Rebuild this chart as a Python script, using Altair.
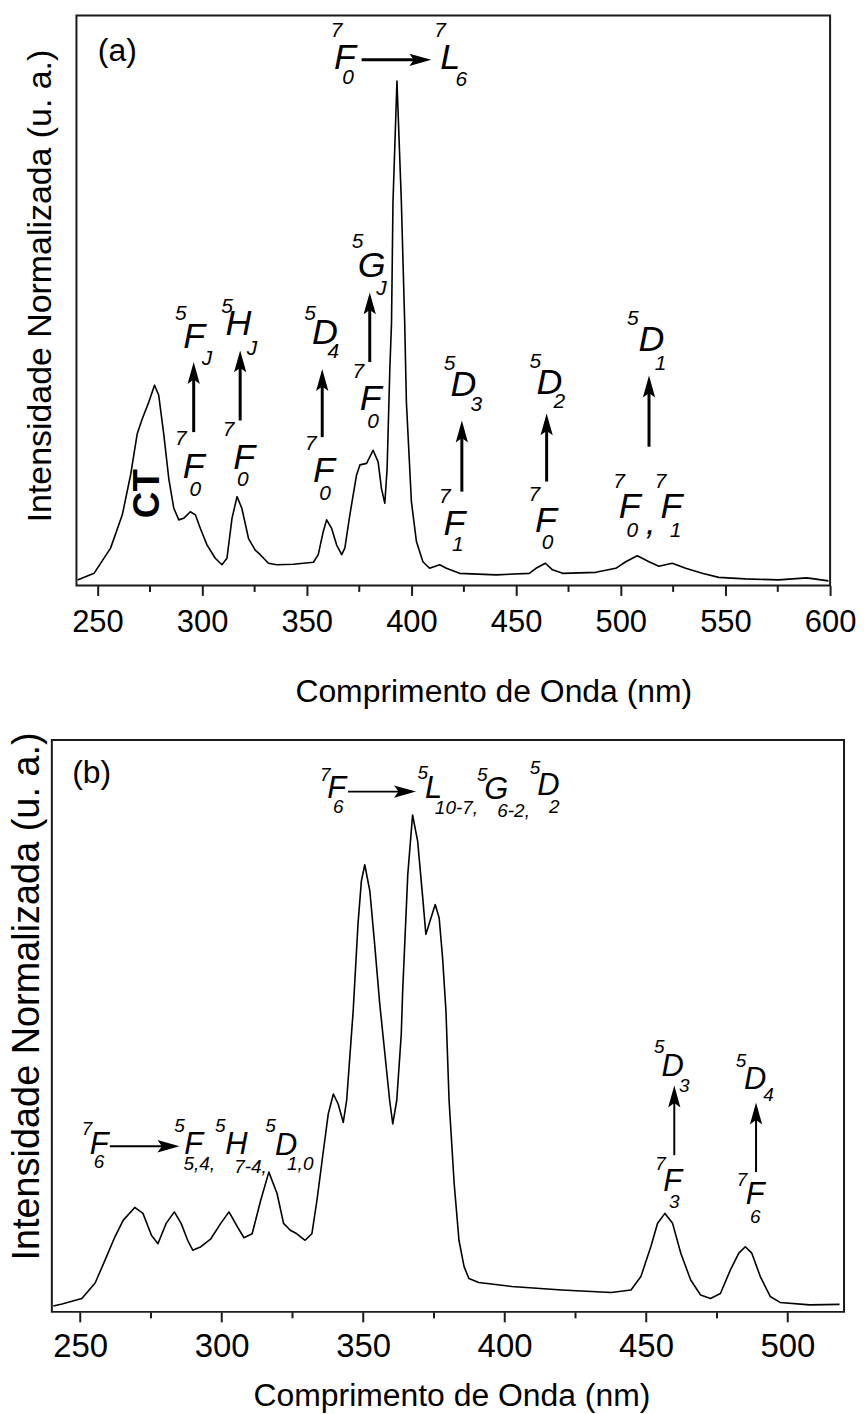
import altair as alt
import pandas as pd

FONT = "Liberation Sans"

# ---------------- Panel (a) spectrum ----------------
wl_a = [240.5, 248.4, 256.3, 261.9, 265.9, 269.0, 271.4, 274.6, 277.3, 279.3,
        281.7, 284.1, 286.5, 288.9, 291.2, 294.4, 296.8, 299.2, 302.4, 306.3,
        309.5, 311.9, 314.3, 316.7, 319.0, 322.2, 325.4, 327.8, 331.7, 335.7,
        343.6, 353.2, 355.5, 357.9, 359.5, 361.9, 364.3, 366.7, 368.2, 370.6,
        373.8, 375.4, 378.6, 381.7, 384.1, 385.7, 387.3, 388.4, 389.7, 390.5,
        391.2, 393.1, 395.2, 396.8, 397.6, 400.0, 402.4, 405.5, 408.7, 413.5,
        416.7, 423.0, 440.5, 456.3, 459.5, 464.0, 467.4, 472.2, 488.1, 497.6,
        502.4, 507.9, 513.5, 518.2, 524.6, 531.0, 538.9, 546.8, 559.5, 575.4,
        588.9, 599.2]
int_a = [0.011, 0.024, 0.074, 0.140, 0.220, 0.300, 0.330, 0.364, 0.397, 0.377,
         0.300, 0.212, 0.153, 0.130, 0.133, 0.146, 0.140, 0.113, 0.080, 0.054,
         0.041, 0.054, 0.133, 0.176, 0.153, 0.093, 0.070, 0.061, 0.044, 0.041,
         0.042, 0.046, 0.061, 0.107, 0.130, 0.113, 0.080, 0.061, 0.074, 0.140,
         0.219, 0.239, 0.242, 0.268, 0.245, 0.192, 0.163, 0.232, 0.430, 0.520,
         0.760, 1.000, 0.760, 0.520, 0.364, 0.166, 0.087, 0.047, 0.034, 0.041,
         0.034, 0.024, 0.021, 0.024, 0.034, 0.044, 0.031, 0.024, 0.026, 0.034,
         0.047, 0.059, 0.047, 0.038, 0.044, 0.034, 0.024, 0.016, 0.013, 0.011,
         0.015, 0.009]

# ---------------- Panel (b) spectrum ----------------
wl_b = [240.5, 243.6, 250.6, 255.3, 258.8, 262.3, 265.2, 269.3, 272.2, 275.2,
        277.5, 280.4, 283.3, 285.7, 288.0, 289.8, 292.7, 296.2, 299.7, 302.6,
        305.6, 307.9, 310.8, 313.8, 316.7, 319.6, 321.9, 324.3, 326.6, 329.5,
        331.9, 333.7, 336.0, 337.7, 339.5, 341.2, 343.0, 344.2, 345.9, 346.5,
        348.2, 349.4, 350.6, 352.4, 354.1, 355.9, 357.6, 359.4, 360.5, 361.9,
        363.5, 364.0, 365.8, 367.5, 369.3, 371.1, 372.2, 374.0, 375.5, 376.9,
        378.1, 379.3, 380.4, 382.2, 383.9, 385.7, 387.4, 390.9, 402.6, 420.2,
        437.7, 444.7, 448.2, 451.7, 454.1, 456.7, 459.4, 462.3, 465.8, 469.3,
        472.8, 476.3, 479.8, 482.8, 485.1, 487.4, 490.4, 493.9, 497.4, 507.9,
        518.4]
int_b = [0.012, 0.016, 0.027, 0.058, 0.104, 0.151, 0.184, 0.210, 0.198, 0.154,
         0.137, 0.178, 0.201, 0.178, 0.144, 0.124, 0.131, 0.147, 0.178, 0.201,
         0.171, 0.149, 0.157, 0.224, 0.281, 0.238, 0.178, 0.164, 0.157, 0.144,
         0.157, 0.224, 0.325, 0.398, 0.438, 0.418, 0.381, 0.425, 0.558, 0.605,
         0.779, 0.866, 0.899, 0.846, 0.739, 0.619, 0.525, 0.425, 0.378, 0.425,
         0.558, 0.645, 0.879, 0.999, 0.946, 0.832, 0.759, 0.792, 0.819, 0.792,
         0.712, 0.605, 0.425, 0.258, 0.144, 0.091, 0.067, 0.059, 0.051, 0.044,
         0.039, 0.044, 0.071, 0.131, 0.178, 0.198, 0.178, 0.118, 0.064, 0.034,
         0.027, 0.037, 0.084, 0.118, 0.131, 0.118, 0.071, 0.031, 0.019, 0.014,
         0.015]

# ---------------- axes ----------------
major_a = [250, 300, 350, 400, 450, 500, 550, 600]
minor_a = [275, 325, 375, 425, 475, 525, 575]
major_b = [250, 300, 350, 400, 450, 500]
minor_b = [275, 325, 375, 425, 475]
x_range_a = [240, 600]
x_range_b = [240, 520]
y_dom_a = [0, 1.13]
y_dom_b = [0, 1.15]
x_title = "Comprimento de Onda (nm)"
y_title = "Intensidade Normalizada (u. a.)"

# ---------------- annotations (role, wavelength, intensity, text) ----------------
labels_a = [
    ("tag", 259.5, 1.060, "(a)"),
    ("sup", 364.3, 1.099, "7"), ("main", 368.2, 1.045, "F"), ("sub", 369.7, 1.006, "0"),
    ("sup", 413.7, 1.099, "7"), ("main", 418.5, 1.045, "L"), ("sub", 423.8, 1.002, "6"),
    ("sup", 289.8, 0.538, "5"), ("main", 296.3, 0.492, "F"), ("sub", 302.4, 0.449, "J"),
    ("sup", 289.8, 0.291, "7"), ("main", 296.0, 0.234, "F"), ("sub", 296.8, 0.189, "0"),
    ("sup", 311.9, 0.551, "5"), ("main", 317.4, 0.518, "H"), ("sub", 323.8, 0.469, "J"),
    ("sup", 312.7, 0.308, "7"), ("main", 320.1, 0.253, "F"), ("sub", 319.5, 0.209, "0"),
    ("sup", 351.6, 0.538, "5"), ("main", 358.7, 0.500, "D"), ("sub", 362.7, 0.462, "4"),
    ("sup", 351.9, 0.281, "7"), ("main", 358.2, 0.227, "F"), ("sub", 358.7, 0.182, "0"),
    ("sup", 374.3, 0.680, "5"), ("main", 381.0, 0.634, "G"), ("sub", 385.7, 0.588, "J"),
    ("sup", 374.6, 0.423, "7"), ("main", 380.5, 0.369, "F"), ("sub", 381.7, 0.324, "0"),
    ("sup", 418.2, 0.439, "5"), ("main", 424.9, 0.398, "D"), ("sub", 431.0, 0.357, "3"),
    ("sup", 415.9, 0.176, "7"), ("main", 420.6, 0.121, "F"), ("sub", 422.2, 0.080, "1"),
    ("sup", 459.2, 0.443, "5"), ("main", 465.9, 0.401, "D"), ("sub", 470.6, 0.364, "2"),
    ("sup", 458.7, 0.179, "7"), ("main", 464.3, 0.128, "F"), ("sub", 465.0, 0.084, "0"),
    ("sup", 505.8, 0.528, "5"), ("main", 514.7, 0.487, "D"), ("sub", 519.0, 0.439, "1"),
    ("sup", 499.2, 0.206, "7"), ("main", 504.3, 0.155, "F"), ("sub", 505.5, 0.107, "0"),
    ("main", 514.3, 0.123, ","),
    ("sup", 519.0, 0.206, "7"), ("main", 524.2, 0.155, "F"), ("sub", 526.2, 0.107, "1"),
    ("ct", 274.2, 0.182, "CT"),
]
varrows_a = [(296.0, 0.304, 0.443), (318.2, 0.327, 0.466), (357.4, 0.294, 0.429),
             (380.1, 0.443, 0.581), (424.1, 0.186, 0.327), (464.6, 0.206, 0.341),
             (513.5, 0.275, 0.416)]
harrows_a = [(376.2, 409.5, 1.042)]

labels_b = [
    ("tag", 254.1, 1.083, "(b)"),
    ("sup", 336.6, 1.080, "7"), ("main", 340.7, 1.051, "F"), ("sub", 341.2, 1.016, "6"),
    ("sup", 371.1, 1.083, "5"), ("main", 374.9, 1.051, "L"), ("sub", 383.0, 1.013, "10-7,"),
    ("sup", 392.1, 1.080, "5"), ("main", 397.1, 1.049, "G"), ("sub", 403.2, 1.006, "6-2,"),
    ("sup", 410.8, 1.093, "5"), ("main", 415.5, 1.058, "D"), ("sub", 417.6, 1.016, "2"),
    ("sup", 252.4, 0.368, "7"), ("main", 256.7, 0.336, "F"), ("sub", 256.7, 0.301, "6"),
    ("sup", 285.1, 0.373, "5"), ("main", 290.1, 0.336, "F"), ("sub", 292.1, 0.298, "5,4,"),
    ("sup", 299.5, 0.373, "5"), ("main", 305.2, 0.336, "H"), ("sub", 310.2, 0.291, "7-4,"),
    ("sup", 317.3, 0.373, "5"), ("main", 322.8, 0.334, "D"), ("sub", 327.8, 0.298, "1,0"),
    ("sup", 454.7, 0.532, "5"), ("main", 459.4, 0.493, "D"), ("sub", 463.5, 0.455, "3"),
    ("sup", 455.1, 0.298, "7"), ("main", 459.4, 0.261, "F"), ("sub", 460.0, 0.221, "3"),
    ("sup", 483.6, 0.505, "5"), ("main", 488.6, 0.467, "D"), ("sub", 493.3, 0.435, "4"),
    ("sup", 483.9, 0.265, "7"), ("main", 488.6, 0.234, "F"), ("sub", 488.6, 0.191, "6"),
]
varrows_b = [(460.0, 0.315, 0.455), (488.9, 0.281, 0.421)]
harrows_b = [(344.7, 368.7, 1.046), (260.5, 285.1, 0.333)]

UP_HEAD = "M0,0 L0.28,1 L0,0.8 L-0.28,1 Z"
RIGHT_HEAD = "M0,0 L-1,-0.28 L-0.8,0 L-1,0.28 Z"

WIDTH_A, HEIGHT_A = 781, 572
WIDTH_B, HEIGHT_B = 795, 574
LEFT_GAP_A = 24.7  # panel (a) frame starts this far right of panel (b)
x_dom_a = [x_range_a[0] - LEFT_GAP_A * (x_range_a[1] - x_range_a[0]) / (WIDTH_A - LEFT_GAP_A), x_range_a[1]]
x_dom_b = x_range_b

st_a = dict(tick=10, mtick=6, lfs=31, lpad=12, tfs=32, tx=443, ty=116, yfs=34, ytx=-11, yty=271,
            aw=3, hs=1936, vcut=0.024, hcut=5.7, sfs=21, mfs=36, tagfs=32)
st_b = dict(tick=10, mtick=6, lfs=33, lpad=9, tfs=32, tx=401, ty=94, yfs=38, ytx=-24, yty=257,
            aw=2, hs=1936, vcut=0.024, hcut=4.2, sfs=19, mfs=31, tagfs=32)


def panel(wl, inten, x_range, x_dom, y_dom, labels, varrows, harrows, major, minor, st, w, h):
    xs = alt.Scale(domain=x_dom, nice=False, zero=False)
    ys = alt.Scale(domain=y_dom, nice=False, zero=False)
    # one shared y-axis definition, repeated in every layer so the merged axis keeps its title
    y_axis = alt.Axis(
        orient="left", title=y_title, labels=False, ticks=False, domain=False, grid=False,
        titleFont=FONT, titleFontSize=st["yfs"], titleFontWeight="normal", titleColor="black",
        titleAngle=270, titleX=st["ytx"], titleY=st["yty"], titleAlign="center",
        titleBaseline="middle")

    def Y(field):
        return alt.Y(field, scale=ys, axis=y_axis)

    def Xn(field):
        return alt.X(field, scale=xs, axis=None)

    spec = pd.DataFrame({"wl": wl, "I": inten})
    line = alt.Chart(spec).mark_line(color="black", strokeWidth=1.6, strokeJoin="round").encode(
        x=alt.X("wl:Q", scale=xs, axis=alt.Axis(
            orient="bottom",
            values=major, format="d", tickSize=st["tick"], tickWidth=2, tickColor="#1a1a1a",
            domain=False, grid=False, labelFont=FONT, labelFontSize=st["lfs"], labelColor="black",
            labelPadding=st["lpad"], labelFlush=False, labelOverlap=False,
            title=x_title, titleFont=FONT, titleFontSize=st["tfs"], titleFontWeight="normal",
            titleColor="black", titleX=st["tx"], titleY=st["ty"], titleAlign="center",
            titleBaseline="alphabetic")),
        y=Y("I:Q"),
    )
    frame_df = pd.DataFrame({"x0": [x_range[0]], "x1": [x_range[1]], "y0": [y_dom[0]], "y1": [y_dom[1]]})
    frame = alt.Chart(frame_df).mark_rect(fillOpacity=0, stroke="#1a1a1a", strokeWidth=2).encode(
        x=alt.X("x0:Q", scale=xs, axis=alt.Axis(
            orient="bottom",
            values=minor, tickSize=st["mtick"], tickWidth=2, tickColor="#1a1a1a",
            labels=False, domain=False, grid=False, title=None)),
        x2="x1:Q",
        y=Y("y0:Q"),
        y2="y1:Q",
    )
    va = pd.DataFrame(varrows, columns=["x", "y0", "y1"])
    shaft_v = alt.Chart(va).transform_calculate(ye=f"datum.y1 - {st['vcut']}").mark_rule(
        color="black", strokeWidth=st["aw"]).encode(x=Xn("x:Q"), y=Y("y0:Q"), y2="ye:Q")
    head_v = alt.Chart(va).mark_point(shape=UP_HEAD, size=st["hs"], filled=True, color="black",
                                      opacity=1).encode(x=Xn("x:Q"), y=Y("y1:Q"))
    ha = pd.DataFrame(harrows, columns=["x0", "x1", "y"])
    shaft_h = alt.Chart(ha).transform_calculate(xe=f"datum.x1 - {st['hcut']}").mark_rule(
        color="black", strokeWidth=st["aw"]).encode(x=Xn("x0:Q"), x2="xe:Q", y=Y("y:Q"))
    head_h = alt.Chart(ha).mark_point(shape=RIGHT_HEAD, size=st["hs"], filled=True, color="black",
                                      opacity=1).encode(x=Xn("x1:Q"), y=Y("y:Q"))

    lab = pd.DataFrame(labels, columns=["role", "x", "y", "t"])

    def txt(role, **mk):
        return alt.Chart(lab).transform_filter(alt.datum.role == role).mark_text(
            font=FONT, color="black", align="center", baseline="middle", **mk).encode(
            x=Xn("x:Q"), y=Y("y:Q"), text="t:N")

    layers = [line, frame, shaft_v, head_v, shaft_h, head_h,
              txt("tag", fontSize=st["tagfs"]),
              txt("main", fontSize=st["mfs"], fontStyle="italic"),
              txt("sup", fontSize=st["sfs"], fontStyle="italic"),
              txt("sub", fontSize=st["sfs"], fontStyle="italic")]
    if any(r[0] == "ct" for r in labels):
        layers.append(txt("ct", fontSize=37, fontWeight="bold", angle=270))
    return alt.layer(*layers).resolve_axis(x="independent").properties(width=w, height=h)


pa = panel(wl_a, int_a, x_range_a, x_dom_a, y_dom_a, labels_a, varrows_a, harrows_a,
           major_a, minor_a, st_a, WIDTH_A, HEIGHT_A)
pb = panel(wl_b, int_b, x_range_b, x_dom_b, y_dom_b, labels_b, varrows_b, harrows_b,
           major_b, minor_b, st_b, WIDTH_B, HEIGHT_B)

chart = alt.vconcat(pa, pb, spacing=24).properties(
    padding={"left": 0, "top": 4, "right": 0, "bottom": 0}
).configure_view(stroke=None)

chart.save("out.html", embed_options={"renderer": "svg", "actions": False})
